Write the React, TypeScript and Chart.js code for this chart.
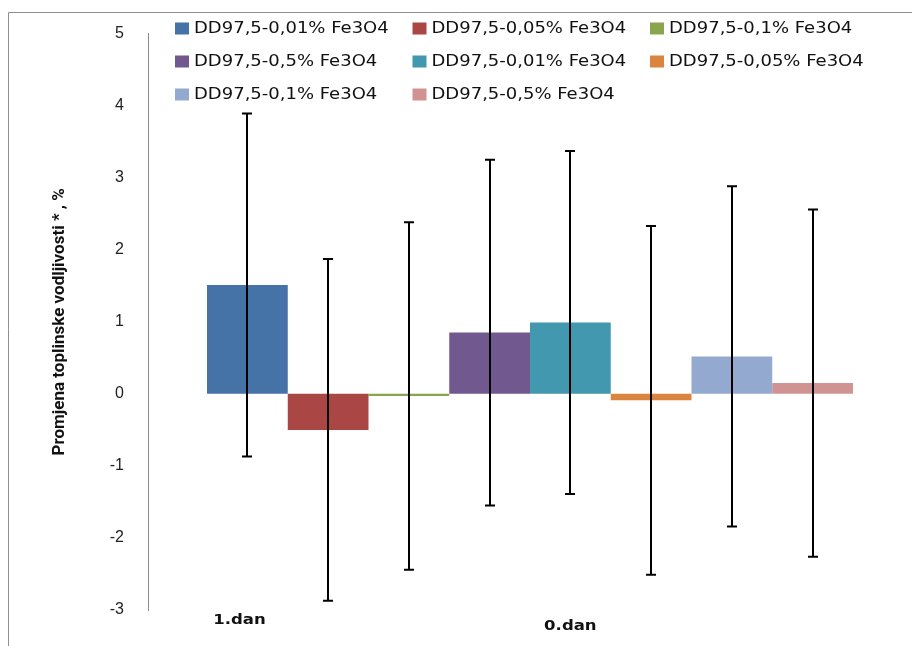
import React, { useEffect, useRef } from "react";
import { Chart, registerables } from "chart.js";

Chart.register(...registerables);

const categories = [""];
const seriesLabels = [
  "DD97,5-0,01% Fe3O4",
  "DD97,5-0,05% Fe3O4",
  "DD97,5-0,1% Fe3O4",
  "DD97,5-0,5% Fe3O4",
  "DD97,5-0,01% Fe3O4",
  "DD97,5-0,05% Fe3O4",
  "DD97,5-0,1% Fe3O4",
  "DD97,5-0,5% Fe3O4",
];
const seriesValues = [1.51, -0.5, -0.03, 0.85, 0.99, -0.09, 0.52, 0.15];
const seriesErrors = [2.38, 2.37, 2.41, 2.4, 2.38, 2.42, 2.36, 2.41];
const seriesColors = [
  "#4572A7",
  "#AA4643",
  "#89A54E",
  "#71588F",
  "#4198AF",
  "#DB843D",
  "#93A9CF",
  "#D19392",
];
const dayLabels = ["1.dan", "0.dan"];
const dayLabelAnchors = [0, 4];
const yMin = -3;
const yMax = 5;
const yStep = 1;
const yTitle = "Promjena toplinske vodljivosti * , %";

const framePlugin = {
  id: "frame",
  beforeDraw(chart: any) {
    const ctx = chart.ctx;
    ctx.save();
    ctx.fillStyle = "#ffffff";
    ctx.fillRect(0, 0, chart.width, chart.height);
    ctx.strokeStyle = "#8f8f8f";
    ctx.lineWidth = 1;
    ctx.beginPath();
    ctx.moveTo(8.5, chart.height + 5);
    ctx.lineTo(8.5, 12.5);
    ctx.lineTo(chart.width + 5, 12.5);
    ctx.stroke();
    ctx.restore();
  },
};

const errorBarPlugin = {
  id: "errorBars",
  afterDatasetsDraw(chart: any) {
    const ctx = chart.ctx;
    const y = chart.scales.y;
    ctx.save();
    ctx.strokeStyle = "#000000";
    ctx.lineWidth = 2;
    chart.data.datasets.forEach((ds: any, i: number) => {
      const meta = chart.getDatasetMeta(i);
      meta.data.forEach((bar: any, j: number) => {
        const v = ds.data[j];
        const e = seriesErrors[i];
        const x = Math.round(bar.x);
        const yt = y.getPixelForValue(v + e);
        const yb = y.getPixelForValue(v - e);
        ctx.beginPath();
        ctx.moveTo(x, yt);
        ctx.lineTo(x, yb);
        ctx.moveTo(x - 5, yt);
        ctx.lineTo(x + 5, yt);
        ctx.moveTo(x - 5, yb);
        ctx.lineTo(x + 5, yb);
        ctx.stroke();
      });
    });
    ctx.restore();
  },
};

const legendPlugin = {
  id: "gridLegend",
  afterDraw(chart: any) {
    const ctx = chart.ctx;
    const x0 = 175;
    const colW = 237.5;
    const y0 = 28.5;
    const rowH = 33;
    ctx.save();
    ctx.font = "15px 'DejaVu Sans'";
    ctx.textBaseline = "middle";
    ctx.textAlign = "left";
    chart.data.datasets.forEach((ds: any, i: number) => {
      const col = i % 3;
      const row = Math.floor(i / 3);
      const bx = x0 + col * colW;
      const by = y0 + row * rowH;
      ctx.fillStyle = ds.backgroundColor;
      ctx.fillRect(bx, by - 6, 14, 12);
      ctx.fillStyle = "#111111";
      ctx.save();
      ctx.translate(bx + 19, by + 1);
      ctx.scale(1.2, 1);
      ctx.fillText(ds.label, 0, 0);
      ctx.restore();
    });
    ctx.restore();
  },
};

const dayLabelPlugin = {
  id: "dayLabels",
  afterDraw(chart: any) {
    const ctx = chart.ctx;
    const offsets = [10, 16];
    ctx.save();
    ctx.font = "bold 14px 'DejaVu Sans'";
    ctx.textBaseline = "middle";
    ctx.textAlign = "center";
    ctx.fillStyle = "#111111";
    dayLabels.forEach((lbl, k) => {
      const meta = chart.getDatasetMeta(dayLabelAnchors[k]);
      const bar = meta.data[0];
      ctx.save();
      ctx.translate(bar.x - (k === 0 ? 8 : 0), chart.chartArea.bottom + offsets[k]);
      ctx.scale(1.18, 1);
      ctx.fillText(lbl, 0, 0);
      ctx.restore();
    });
    ctx.restore();
  },
};

export default function App() {
  const ref = useRef<HTMLCanvasElement | null>(null);

  useEffect(() => {
    if (!ref.current) return;
    const chart = new Chart(ref.current, {
      type: "bar",
      data: {
        labels: categories,
        datasets: seriesLabels.map((label, i) => ({
          label,
          data: [seriesValues[i]],
          backgroundColor: seriesColors[i],
          borderWidth: 0,
          barPercentage: 1,
          categoryPercentage: 0.8455,
        })),
      },
      options: {
        responsive: false,
        animation: false,
        layout: { padding: { top: 32, bottom: 36, left: 0, right: 0 } },
        plugins: {
          legend: { display: false },
          tooltip: { enabled: false },
        },
        scales: {
          x: { display: false },
          y: {
            min: yMin,
            max: yMax,
            grid: { display: false, drawTicks: false },
            border: { display: true, color: "#8c8c8c", width: 1 },
            ticks: {
              stepSize: yStep,
              padding: 24,
              color: "#222222",
              font: { family: "'Liberation Sans'", size: 16 },
            },
            title: {
              display: true,
              text: yTitle,
              color: "#111111",
              font: { family: "Roboto", size: 17, weight: "bold" },
              padding: { top: 50, bottom: 0 },
            },
            afterFit: (scale: any) => {
              scale.width = 148;
            },
          },
        },
      },
      plugins: [framePlugin, errorBarPlugin, legendPlugin, dayLabelPlugin],
    } as any);
    return () => chart.destroy();
  }, []);

  return (
    <div style={{ position: "fixed", left: 0, top: 0, width: 912, height: 646, overflow: "hidden", background: "#fff" }}>
      <canvas ref={ref} width={912} height={646} style={{ width: 912, height: 646, display: "block" }} />
    </div>
  );
}
